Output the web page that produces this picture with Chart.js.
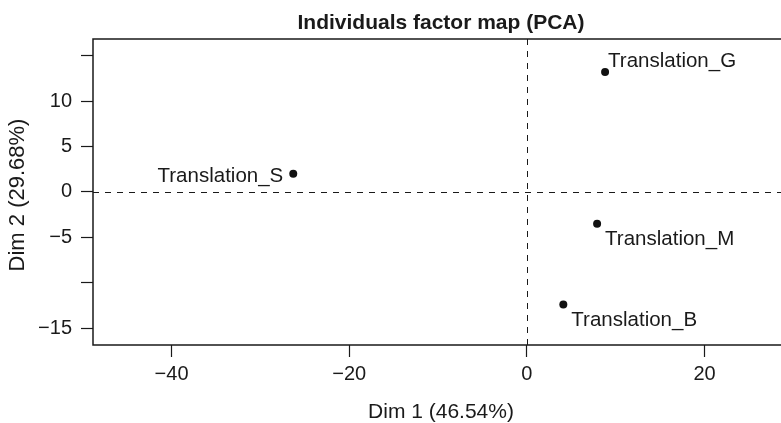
<!DOCTYPE html>
<html>
<head>
<meta charset="utf-8">
<script src="https://cdn.jsdelivr.net/npm/chart.js@4"></script>
<style>
  html, body { margin: 0; padding: 0; background: #fff; }
  #wrap { width: 781px; height: 423px; }
</style>
</head>
<body>
<div id="wrap"><canvas id="pca"></canvas></div>
<script>
// individuals and their coordinates on the first two dims
var individuals = ['Translation_G', 'Translation_M', 'Translation_B', 'Translation_S'];
var dim1 = [8.8, 7.9, 4.1, -26.3];
var dim2 = [13.2, -3.5, -12.4, 2.0];

// axis ticks (R drops some labels, keep the marks)
var xTicks = [-40, -20, 0, 20];
var xTickLabels = ['\u221240', '\u221220', '0', '20'];
var yTicks = [-15, -10, -5, 0, 5, 10, 15];
var yTickLabels = ['\u221215', '', '\u22125', '0', '5', '10', ''];

var mainTitle = 'Individuals factor map (PCA)';
var xTitle = 'Dim 1 (46.54%)';
var yTitle = 'Dim 2 (29.68%)';

var FONT = "'Liberation Sans', Arial, Helvetica, sans-serif";
var INK = '#1a1a1a';

var points = [];
for (var i = 0; i < individuals.length; i++) {
  points.push({x: dim1[i], y: dim2[i]});
}

// frame + dashed zero lines
var framePlugin = {
  id: 'frame',
  beforeDatasetsDraw: function(chart) {
    var ctx = chart.ctx, a = chart.chartArea;
    var x0 = Math.round(chart.scales.x.getPixelForValue(0)) + 0.5;
    var y0 = Math.round(chart.scales.y.getPixelForValue(0)) + 0.5;
    ctx.save();
    ctx.strokeStyle = INK;
    ctx.lineWidth = 1;
    ctx.setLineDash([6, 6]);
    ctx.beginPath();
    ctx.moveTo(a.left, y0); ctx.lineTo(a.right, y0);
    ctx.moveTo(x0, a.top); ctx.lineTo(x0, a.bottom);
    ctx.stroke();
    ctx.setLineDash([]);
    ctx.lineWidth = 1.5;
    ctx.beginPath();
    ctx.moveTo(a.right + 2, a.top);
    ctx.lineTo(a.left, a.top);
    ctx.lineTo(a.left, a.bottom);
    ctx.lineTo(a.right + 2, a.bottom);
    ctx.stroke();
    ctx.restore();
  }
};

// titles: the R plot region runs past the right edge, so center on it
var titlePlugin = {
  id: 'titles',
  afterDraw: function(chart, args, opts) {
    var ctx = chart.ctx, a = chart.chartArea;
    var cx = a.left + opts.plotWidth / 2;
    ctx.save();
    ctx.fillStyle = INK;
    ctx.textAlign = 'center';
    ctx.textBaseline = 'alphabetic';
    ctx.font = 'bold 21px ' + FONT;
    ctx.fillText(mainTitle, cx, 28.5);
    ctx.font = '21px ' + FONT;
    ctx.fillText(xTitle, cx, 418);
    ctx.translate(24, (a.top + a.bottom) / 2 + 3);
    ctx.rotate(-Math.PI / 2);
    ctx.font = '22px ' + FONT;
    ctx.fillText(yTitle, 0, 0);
    ctx.restore();
  }
};

// point names, placed like the R plot
var namePlugin = {
  id: 'names',
  afterDatasetsDraw: function(chart, args, opts) {
    var ctx = chart.ctx;
    var meta = chart.getDatasetMeta(0);
    ctx.save();
    ctx.font = '20.5px ' + FONT;
    ctx.fillStyle = INK;
    ctx.textBaseline = 'alphabetic';
    meta.data.forEach(function(el, k) {
      var o = opts.offsets[k];
      ctx.textAlign = o[2];
      ctx.fillText(individuals[k], el.x + o[0], el.y + o[1]);
    });
    ctx.restore();
  }
};

new Chart(document.getElementById('pca'), {
  type: 'scatter',
  data: {
    datasets: [{
      label: 'individuals',
      data: points,
      backgroundColor: '#111',
      borderColor: '#111',
      borderWidth: 0,
      pointRadius: 4,
      pointHoverRadius: 4
    }]
  },
  plugins: [framePlugin, namePlugin, titlePlugin],
  options: {
    responsive: true,
    maintainAspectRatio: false,
    animation: false,
    layout: { autoPadding: false, padding: { top: 39, left: 0, right: 0, bottom: 0 } },
    plugins: {
      legend: { display: false },
      tooltip: { enabled: false },
      title: { display: false },
      titles: { plotWidth: 696 },
      names: {
        offsets: [[3, -5, 'left'], [8, 21, 'left'], [8, 21, 'left'], [-10, 8, 'right']]
      }
    },
    scales: {
      x: {
        type: 'linear',
        min: -48.84,
        max: 28.6,
        afterBuildTicks: function(s) { s.ticks = xTicks.map(function(v) { return {value: v}; }); },
        afterFit: function(s) { s.height = 78; },
        ticks: {
          color: INK,
          font: { family: FONT, size: 20 },
          padding: 5,
          maxRotation: 0,
          callback: function(v) { return xTickLabels[xTicks.indexOf(v)]; }
        },
        grid: { drawOnChartArea: false, drawTicks: true, tickLength: 12, tickColor: INK, tickWidth: 1.2 },
        border: { display: false },
        title: { display: false }
      },
      y: {
        type: 'linear',
        min: -16.85,
        max: 16.84,
        afterBuildTicks: function(s) { s.ticks = yTicks.map(function(v) { return {value: v}; }); },
        afterFit: function(s) { s.width = 93; },
        ticks: {
          color: INK,
          font: { family: FONT, size: 20 },
          padding: 9,
          callback: function(v) { return yTickLabels[yTicks.indexOf(v)]; }
        },
        grid: { drawOnChartArea: false, drawTicks: true, tickLength: 12, tickColor: INK, tickWidth: 1.2 },
        border: { display: false },
        title: { display: false }
      }
    }
  }
});
</script>
</body>
</html>
